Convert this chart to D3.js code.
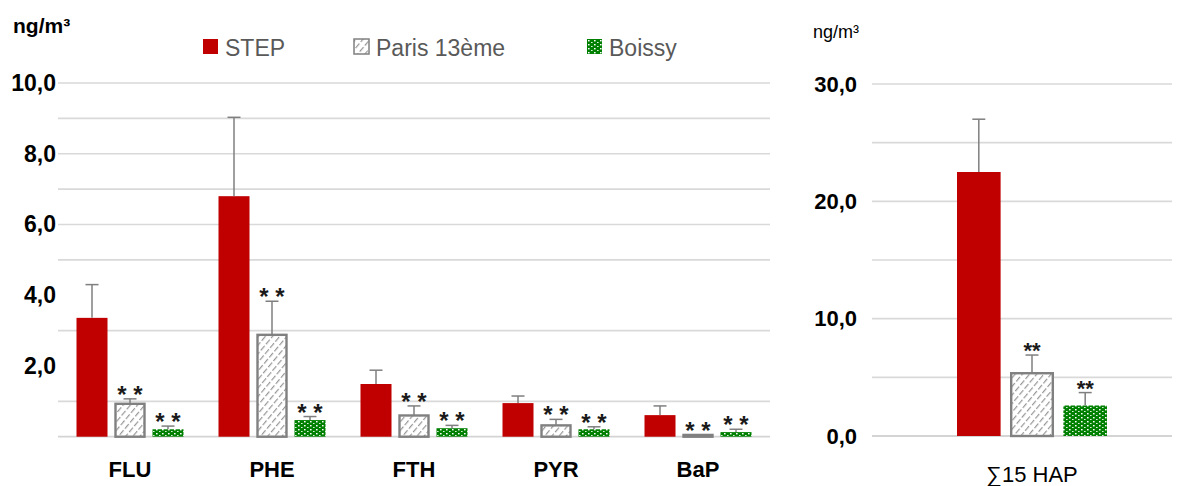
<!DOCTYPE html>
<html>
<head>
<meta charset="utf-8">
<script src="https://cdn.jsdelivr.net/npm/d3@7/dist/d3.min.js"></script>
<style>
  html, body { margin: 0; padding: 0; background: #fff; }
  svg { display: block; font-family: "Liberation Sans", Arial, sans-serif; }
</style>
</head>
<body>
<svg id="chart" width="1181" height="486"></svg>
<script>
// PAH concentrations (ng/m3) per compound and site
const categories = ["FLU", "PHE", "FTH", "PYR", "BaP"];
const seriesNames = ["STEP", "Paris 13ème", "Boissy"];
const stepValues   = [3.36, 6.80, 1.49, 0.95, 0.61];
const stepErrors   = [0.94, 2.23, 0.39, 0.20, 0.26];
const parisValues  = [0.93, 2.88, 0.60, 0.32, 0.05];
const parisErrors  = [0.14, 0.95, 0.27, 0.17, 0.00];
const boissyValues = [0.21, 0.47, 0.24, 0.21, 0.13];
const boissyErrors = [0.09, 0.10, 0.08, 0.07, 0.08];
const significance = ["", "* *", "* *"];

// Sum of the 15 PAHs
const totalCategory = ["\u221115  HAP"];
const totalValues = [22.5, 5.35, 2.6];
const totalErrors = [4.5, 1.55, 1.1];
const totalSignificance = ["", "**", "**"];

// Axes
const leftTicks = [10, 8, 6, 4, 2];
const leftGrid = [1, 3, 5, 6, 7, 8, 9, 10];
const rightTicks = [30, 20, 10, 0];
const rightGrid = [5, 10, 15, 20, 25, 30];
const unitLabel = "ng/m\u00b3";

const fmt = v => d3.format(".1f")(v).replace(".", ",");

const svg = d3.select("#chart");
const defs = svg.append("defs");

// Diagonal hatch for Paris 13ème
const hatch = defs.append("pattern")
  .attr("id", "hatch").attr("patternUnits", "userSpaceOnUse")
  .attr("width", 5.5).attr("height", 8)
  .attr("patternTransform", "rotate(40)");
hatch.append("rect").attr("width", 5.5).attr("height", 8).attr("fill", "#fff");
hatch.append("line").attr("x1", 1.5).attr("y1", 0).attr("x2", 1.5).attr("y2", 8)
  .attr("stroke", "#969696").attr("stroke-width", 1.2).attr("stroke-dasharray", "6,2");

// Dotted green fill for Boissy
const dots = defs.append("pattern")
  .attr("id", "dots").attr("patternUnits", "userSpaceOnUse")
  .attr("width", 6).attr("height", 4);
dots.append("rect").attr("width", 6).attr("height", 4).attr("fill", "#008000");
dots.append("rect").attr("x", 1).attr("y", 1).attr("width", 1.6).attr("height", 1.4).attr("fill", "#fff");
dots.append("rect").attr("x", 4).attr("y", 3).attr("width", 1.6).attr("height", 1).attr("fill", "#d8f0d8");

const fills = ["#C00000", "url(#hatch)", "url(#dots)"];
const strokes = ["none", "#808080", "none"];

function drawPanel(opts) {
  const g = svg.append("g");
  const y = d3.scaleLinear().domain(opts.domain).range([opts.bottom, opts.top]);
  const x0 = d3.scaleBand().domain(opts.categories).range(opts.xRange).padding(0);
  const x1 = d3.scaleBand().domain(seriesNames)
    .range(opts.innerRange).paddingInner(opts.innerPad).paddingOuter(0);

  // grid
  g.append("g").selectAll("line").data(opts.grid).join("line")
    .attr("x1", opts.gridX[0]).attr("x2", opts.gridX[1])
    .attr("y1", d => y(d)).attr("y2", d => y(d))
    .attr("stroke", "#d9d9d9").attr("stroke-width", 1.6);
  g.append("line")
    .attr("x1", opts.gridX[0]).attr("x2", opts.gridX[1])
    .attr("y1", y(0)).attr("y2", y(0))
    .attr("stroke", "#d4d4d4").attr("stroke-width", 1.8);

  // y axis labels
  const axis = d3.axisLeft(y).tickValues(opts.ticks).tickFormat(fmt)
    .tickSize(0).tickPadding(0);
  const ag = g.append("g").attr("transform", `translate(${opts.axisX},0)`).call(axis);
  ag.select(".domain").remove();
  ag.selectAll("text")
    .attr("font-family", "'Liberation Sans', Arial, sans-serif")
    .attr("font-size", opts.tickSize).attr("font-weight", "bold")
    .attr("fill", "#000");

  // bars
  opts.categories.forEach((cat, ci) => {
    const cg = g.append("g").attr("transform", `translate(${x0(cat)},0)`);
    const rows = seriesNames.map((s, si) => ({
      s, si, v: opts.values[si][ci], e: opts.errors[si][ci], sig: opts.sig[si]
    }));
    cg.selectAll("rect.bar").data(rows).join("rect")
      .attr("class", "bar")
      .attr("x", d => x1(d.s) + (d.si === 1 ? 1 : 0))
      .attr("width", d => x1.bandwidth() - (d.si === 1 ? 2 : 0))
      .attr("y", d => y(d.v))
      .attr("height", d => y(0) - y(d.v))
      .attr("fill", d => fills[d.si])
      .attr("stroke", d => strokes[d.si])
      .attr("stroke-width", d => d.si === 1 ? 2.4 : 0);

    const eg = cg.selectAll("g.err").data(rows.filter(d => d.e > 0)).join("g").attr("class", "err");
    eg.append("line")
      .attr("x1", d => x1(d.s) + x1.bandwidth() / 2).attr("x2", d => x1(d.s) + x1.bandwidth() / 2)
      .attr("y1", d => y(d.v)).attr("y2", d => y(d.v + d.e))
      .attr("stroke", "#7f7f7f").attr("stroke-width", 1.5);
    eg.append("line")
      .attr("x1", d => x1(d.s) + x1.bandwidth() / 2 - 6.5).attr("x2", d => x1(d.s) + x1.bandwidth() / 2 + 6.5)
      .attr("y1", d => y(d.v + d.e)).attr("y2", d => y(d.v + d.e))
      .attr("stroke", "#7f7f7f").attr("stroke-width", 1.5);

    cg.selectAll("text.sig").data(rows.filter(d => d.sig)).join("text")
      .attr("class", "sig")
      .attr("x", d => x1(d.s) + x1.bandwidth() / 2)
      .attr("y", d => y(d.v + d.e) + opts.sigShift)
      .attr("text-anchor", "middle")
      .attr("font-size", opts.sigSize).attr("font-weight", "bold")
      .attr("fill", "#1a1a1a")
      .text(d => d.sig);
  });

  // category labels
  g.append("g").selectAll("text").data(opts.categories).join("text")
    .attr("x", d => x0(d) + x0.bandwidth() / 2)
    .attr("y", opts.labelY)
    .attr("text-anchor", "middle")
    .attr("font-size", opts.labelSize)
    .attr("font-weight", opts.labelWeight)
    .attr("fill", "#000")
    .text(d => d);

  // unit
  g.append("text").attr("x", opts.unitPos[0]).attr("y", opts.unitPos[1])
    .attr("font-size", opts.unitSize).attr("font-weight", opts.unitWeight)
    .attr("fill", "#000").text(unitLabel);
}

drawPanel({
  categories, domain: [0, 10], top: 83, bottom: 436.7,
  xRange: [59, 769], innerRange: [17.5, 124.5], innerPad: 0.184,
  grid: leftGrid, gridX: [58, 770], ticks: leftTicks, axisX: 56, tickSize: 23,
  values: [stepValues, parisValues, boissyValues],
  errors: [stepErrors, parisErrors, boissyErrors],
  sig: significance, sigSize: 24, sigShift: 4,
  labelY: 477, labelSize: 22, labelWeight: "bold",
  unitPos: [13, 33], unitSize: 21, unitWeight: "bold"
});

drawPanel({
  categories: totalCategory, domain: [0, 30], top: 84, bottom: 436,
  xRange: [882, 1182], innerRange: [75, 225], innerPad: 0.18,
  grid: rightGrid, gridX: [872, 1172], ticks: rightTicks, axisX: 857, tickSize: 22,
  values: [[totalValues[0]], [totalValues[1]], [totalValues[2]]],
  errors: [[totalErrors[0]], [totalErrors[1]], [totalErrors[2]]],
  sig: totalSignificance, sigSize: 22, sigShift: 3,
  labelY: 482, labelSize: 22, labelWeight: "normal",
  unitPos: [813, 38], unitSize: 18, unitWeight: "normal"
});

// legend
const legendX = [203, 354, 587];
const lg = svg.append("g").selectAll("g").data(seriesNames).join("g")
  .attr("transform", (d, i) => `translate(${legendX[i]},39)`);
lg.append("rect")
  .attr("width", 15).attr("height", 15)
  .attr("fill", (d, i) => fills[i])
  .attr("stroke", (d, i) => strokes[i]).attr("stroke-width", 1.5);
lg.append("text").attr("x", 22).attr("y", 17)
  .attr("font-size", 23).attr("fill", "#595959").text(d => d);
</script>
</body>
</html>
